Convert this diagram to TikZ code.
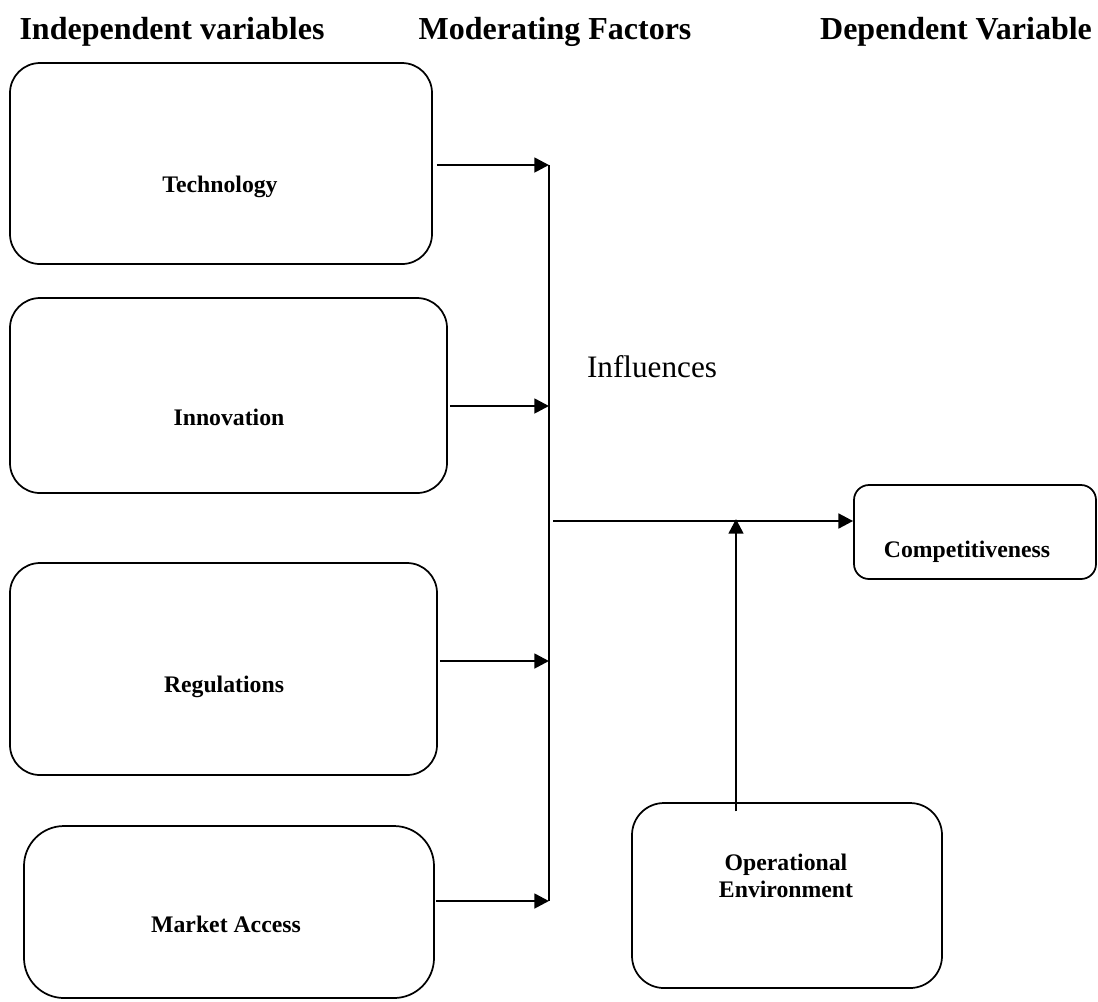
\documentclass[tikz,border=0pt]{standalone}
\usepackage{fontspec}
\setmainfont{Liberation Serif}
\usetikzlibrary{arrows.meta,positioning}
\tikzset{
  varbox/.style={draw, rounded corners=22.5pt, line width=1.3pt, inner sep=0pt},
  lbl/.style={font=\fontsize{17.8pt}{20.25pt}\selectfont\bfseries, anchor=base, align=center, inner sep=0pt},
  hdr/.style={font=\fontsize{24pt}{28pt}\selectfont\bfseries, anchor=base, inner sep=0pt},
  note/.style={font=\fontsize{23.4pt}{28pt}\selectfont, anchor=base, inner sep=0pt},
  arr/.style={-{Triangle[length=11pt,width=11pt]}, line width=2pt},
  busline/.style={line width=2pt}
}

\begin{document}
\begin{tikzpicture}[x=0.75pt, y=-0.75pt]
  \useasboundingbox (0,0) rectangle (1098,1001);
  % headings
  \node[hdr] (hIndep) at (172,39) {Independent variables};
  \node[hdr] (hModer) at (555,39) {Moderating Factors};
  \node[hdr] (hDepen) at (956,39) {Dependent Variable};

  % independent variables
  \node[varbox, minimum width=316.5pt, minimum height=150.75pt] (tech) at (221,163.5) {};
  \node[varbox, minimum width=327.75pt, minimum height=146.25pt] (innov) at (228.5,395.5) {};
  \node[varbox, minimum width=320.25pt, minimum height=159pt] (regul) at (223.5,669) {};
  \node[varbox, rounded corners=30pt, minimum width=307.5pt, minimum height=129pt] (market) at (229,912) {};
  \node[lbl] (techL) at (220,192) {Technology};
  \node[lbl] (innovL) at (229,425) {Innovation};
  \node[lbl] (regulL) at (224,692) {Regulations};
  \node[lbl] (marketL) at (226,932) {Market Access};

  % moderating and dependent
  \node[varbox, rounded corners=24pt, minimum width=232.5pt, minimum height=138.75pt] (openv) at (787,895.5) {};
  \node[lbl] (openvL) at (786,897) {Operational\\Environment};
  \node[varbox, rounded corners=11.25pt, minimum width=181.5pt, minimum height=70.5pt] (comp) at (975,532) {};
  \node[lbl] (compL) at (967,557) {Competitiveness};
  \node[note] (infl) at (652,377) {Influences};

  % connectors
  \coordinate (busT) at (549,165);
  \coordinate (bInn) at (549,406);
  \coordinate (bReg) at (549,661);
  \coordinate (busB) at (549,901);
  \draw[busline] (busT) -- (busB);
  \draw[arr, shorten <=3pt] (tech.east |- busT) -- (busT);
  \draw[arr, shorten <=1.5pt] (innov.east |- bInn) -- (bInn);
  \draw[arr, shorten <=1.5pt] (regul.east |- bReg) -- (bReg);
  \draw[arr, shorten <=1pt] (market.east |- busB) -- (busB);

  \coordinate (hub) at (553,521);
  \draw[arr] (hub) -- (comp.west |- hub);
  \coordinate (join) at (736,519);
  \draw[arr, shorten <=-7pt] (join |- openv.north) -- (join);
\end{tikzpicture}
\end{document}
